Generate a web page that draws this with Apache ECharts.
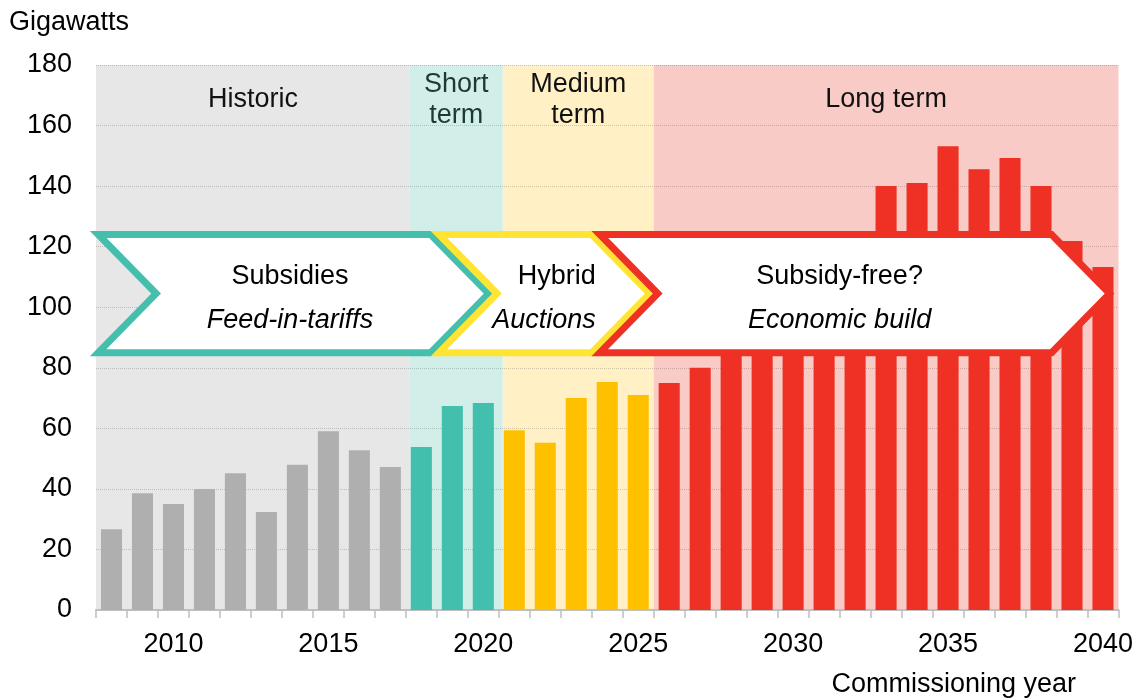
<!DOCTYPE html>
<html>
<head>
<meta charset="utf-8">
<title>Capacity by commissioning year</title>
<script src="https://cdn.jsdelivr.net/npm/echarts@6/dist/echarts.min.js"></script>
<style>
  html, body { margin: 0; padding: 0; background: #fff; }
  #chart { width: 1136px; height: 698px; }
</style>
</head>
<body>
<div id="chart"></div>
<script>
// 数据
const years = ['2008', '2009', '2010', '2011', '2012', '2013', '2014', '2015', '2016', '2017',
  '2018', '2019', '2020', '2021', '2022', '2023', '2024', '2025', '2026', '2027',
  '2028', '2029', '2030', '2031', '2032', '2033', '2034', '2035', '2036', '2037',
  '2038', '2039', '2040']
const gigawatts = [26.7, 38.6, 35.0, 40.0, 45.2, 32.4, 48.0, 59.0, 52.8, 47.2,
  53.8, 67.4, 68.4, 59.4, 55.2, 70.0, 75.3, 71.0, 75.0, 80.0,
  90.0, 98.0, 106.0, 115.0, 125.2, 140.0, 141.0, 153.2, 145.6, 149.3,
  140.0, 121.9, 113.3]

// 阶段
const periodNames = ['Historic', 'Short\nterm', 'Medium\nterm', 'Long term']
const periodFirstYears = [2008, 2018, 2021, 2026]

// 政策箭头
const policyTitles = ['Subsidies', 'Hybrid', 'Subsidy-free?']
const policySubtitles = ['Feed-in-tariffs', 'Auctions', 'Economic build']

const FONT = '"Liberation Sans", Arial, sans-serif'
const FS = 27
const barColors = ['#afafaf', '#43bfae', '#ffc000', '#ee3124']
const bandColors = ['#e7e7e7', '#d1eee9', '#fff0c6', '#f8cbc6']
const bandTextColors = ['#111', '#1d3934', '#111', '#111']
const arrowColors = ['#45bfad', '#ffe433', '#ee3124']

// 布局 (second, hidden value axis in year units)
const bandEdges = [2007.5, 2017.63, 2020.63, 2025.5, 2040.5]
const arrowLeft = [2007.57, 2018.57, 2023.76]
const arrowRight = [2018.3, 2023.5, 2038.34]
const arrowDepth = 1.87
const arrowTop = 124
const arrowBottom = 85
const arrowTextX = [2013.76, 2023.63, 2031.5]
const arrowTextAlign = ['center', 'right', 'center']

const periodOf = (year) => {
  let p = 0
  periodFirstYears.forEach((y, i) => { if (year >= y) p = i })
  return p
}

const chart = echarts.init(document.getElementById('chart'))

const renderBand = (params, api) => {
  const i = params.dataIndex
  const a = api.coord([api.value(0), 180])
  const b = api.coord([api.value(1), 0])
  const ty = api.coord([2020, 168.5])[1]
  return {
    type: 'group',
    children: [
      {
        type: 'rect',
        shape: { x: a[0], y: a[1], width: b[0] - a[0], height: b[1] - a[1] },
        style: { fill: bandColors[i] }
      },
      {
        type: 'text',
        style: {
          x: (a[0] + b[0]) / 2,
          y: ty,
          text: periodNames[i],
          fill: bandTextColors[i],
          font: FS + 'px ' + FONT,
          align: 'center',
          verticalAlign: 'middle',
          lineHeight: 31
        }
      }
    ]
  }
}

const renderArrow = (params, api) => {
  const i = params.dataIndex
  const l = api.value(0)
  const r = api.value(1)
  const mid = (arrowTop + arrowBottom) / 2
  const pts = [
    [l, arrowTop], [r, arrowTop], [r + arrowDepth, mid],
    [r, arrowBottom], [l, arrowBottom], [l + arrowDepth, mid]
  ].map(p => api.coord(p))
  const tx = api.coord([arrowTextX[i], 110])
  const sy = api.coord([arrowTextX[i], 95.5])[1]
  return {
    type: 'group',
    children: [
      {
        type: 'polygon',
        shape: { points: pts },
        style: { fill: '#fff', stroke: arrowColors[i], lineWidth: 7, lineJoin: 'miter' }
      },
      {
        type: 'text',
        style: {
          x: tx[0], y: tx[1], text: policyTitles[i], fill: '#000',
          font: FS + 'px ' + FONT, align: arrowTextAlign[i], verticalAlign: 'middle'
        }
      },
      {
        type: 'text',
        style: {
          x: tx[0], y: sy, text: policySubtitles[i], fill: '#000',
          font: 'italic ' + FS + 'px ' + FONT, align: arrowTextAlign[i], verticalAlign: 'middle'
        }
      }
    ]
  }
}

const option = {
  animation: false,
  title: [
    {
      text: 'Gigawatts', left: 9, top: 9, padding: 0,
      textStyle: { fontSize: FS, fontWeight: 'normal', color: '#000', fontFamily: FONT }
    },
    {
      text: 'Commissioning year', right: 60, top: 671, padding: 0,
      textStyle: { fontSize: FS, fontWeight: 'normal', color: '#000', fontFamily: FONT }
    }
  ],
  grid: { left: 96, right: 17, top: 65, bottom: 88 },
  xAxis: [
    {
      type: 'category',
      data: years,
      boundaryGap: true,
      axisLine: { lineStyle: { color: '#bfbfbf', width: 2 } },
      axisTick: { show: true, interval: 0, length: 8, lineStyle: { color: '#bfbfbf', width: 1.5 } },
      axisLabel: {
        interval: (idx, val) => Number(val) % 5 === 0,
        fontSize: FS,
        color: '#000',
        fontFamily: FONT,
        margin: 21
      },
      splitLine: { show: false }
    },
    {
      type: 'value',
      min: 2007.5,
      max: 2040.5,
      show: false
    }
  ],
  yAxis: {
    type: 'value',
    min: 0,
    max: 180,
    interval: 20,
    axisLine: { show: false },
    axisTick: { show: false },
    axisLabel: { fontSize: FS, color: '#000', fontFamily: FONT, margin: 24 },
    splitLine: { lineStyle: { type: 'dotted', color: 'rgba(0,0,0,0.18)', width: 1 } }
  },
  series: [
    {
      name: 'bands',
      type: 'custom',
      xAxisIndex: 1,
      z: -1,
      silent: true,
      renderItem: renderBand,
      encode: { x: [0, 1], y: 2 },
      data: periodNames.map((n, i) => [bandEdges[i], bandEdges[i + 1], 0])
    },
    {
      name: 'Gigawatts',
      type: 'bar',
      xAxisIndex: 0,
      barWidth: '68%',
      z: 2,
      data: gigawatts.map((v, i) => ({
        value: v,
        itemStyle: { color: barColors[periodOf(Number(years[i]))] }
      }))
    },
    {
      name: 'policy',
      type: 'custom',
      xAxisIndex: 1,
      z: 5,
      silent: true,
      renderItem: renderArrow,
      encode: { x: [0, 1], y: 2 },
      data: policyTitles.map((t, i) => [arrowLeft[i], arrowRight[i], 100])
    }
  ]
}

chart.setOption(option)
</script>
</body>
</html>
